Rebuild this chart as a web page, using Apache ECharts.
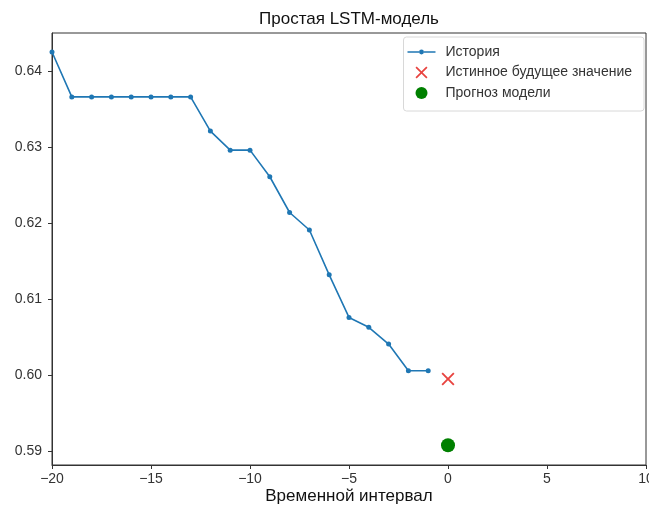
<!DOCTYPE html>
<html><head><meta charset="utf-8">
<script src="https://cdn.jsdelivr.net/npm/echarts@6/dist/echarts.min.js"></script>
<style>html,body{margin:0;padding:0;background:#fff}#c{width:649px;height:506px}</style>
</head><body><div id="c"></div>
<script>
const historyX = [-20,-19,-18,-17,-16,-15,-14,-13,-12,-11,-10,-9,-8,-7,-6,-5,-4,-3,-2,-1];
const historyY = [0.6425,0.6366,0.6366,0.6366,0.6366,0.6366,0.6366,0.6366,0.6321,0.6296,0.6296,0.6261,0.6214,0.6191,0.6132,0.6076,0.6063,0.6041,0.6006,0.6006];
const trueX = [0];
const trueY = [0.5995];
const predX = [0];
const predY = [0.5908];
const yTicks = [0.59,0.60,0.61,0.62,0.63,0.64];
const xTicks = [-20,-15,-10,-5,0,5,10];
const titleText = 'Простая LSTM-модель';
const xName = 'Временной интервал';
const names = ['История','Истинное будущее значение','Прогноз модели'];

const font = '"Liberation Sans", Arial, sans-serif';
const xPath = 'path://M0,1 L1,0 L5,4 L9,0 L10,1 L6,5 L10,9 L9,10 L5,6 L1,10 L0,9 L4,5 Z';
const lineIcon = 'path://M0,0 L0.01,0 L0,0.01 Z M28,12 L27.99,12 L28,11.99 Z M0,5.25 H11.8 V6.75 H0 Z M16.2,5.25 H28 V6.75 H16.2 Z M11.6,6 A2.4,2.4 0 1 0 16.4,6 A2.4,2.4 0 1 0 11.6,6 Z';
const chart = echarts.init(document.getElementById('c'));
chart.setOption({
  animation:false,
  textStyle:{fontFamily:font},
  title:{text:titleText,left:344,top:6,textAlign:'center',textStyle:{fontFamily:font,fontSize:17,fontWeight:'normal',color:'#111'}},
  grid:{left:52,right:3,top:33,bottom:41,show:true,borderColor:'#333',borderWidth:1,backgroundColor:'transparent',outerBoundsMode:'none'},
  legend:{
    orient:'vertical',right:5,top:37,padding:[8,12,11,4],itemGap:6.5,itemWidth:28,itemHeight:12,
    borderColor:'#d8d8d8',borderWidth:1,borderRadius:3,backgroundColor:'rgba(255,255,255,0.8)',
    textStyle:{fontFamily:font,fontSize:14,color:'#333',padding:[0,0,0,5]},
    data:[{name:names[0],icon:lineIcon},{name:names[1]},{name:names[2]}]
  },
  xAxis:{type:'value',min:xTicks[0],max:xTicks[xTicks.length-1],interval:5,
    axisLine:{onZero:false,lineStyle:{color:'#333'}},axisTick:{length:4,lineStyle:{color:'#333'}},
    splitLine:{show:false},
    axisLabel:{fontSize:14,color:'#333',margin:7,showMaxLabel:true,showMinLabel:true,formatter:v=>String(v).replace('-','\u2212')},
    name:xName,nameLocation:'middle',nameGap:23,nameMoveOverlap:false,nameTextStyle:{fontFamily:font,fontSize:17,color:'#111'}},
  yAxis:{type:'value',min:0.5882,max:0.645,
    axisLine:{show:true,onZero:false,lineStyle:{color:'#333'}},
    axisTick:{show:true,length:4,lineStyle:{color:'#333'},customValues:yTicks},
    splitLine:{show:false},
    axisLabel:{fontSize:14,color:'#333',margin:10,customValues:yTicks,formatter:v=>v.toFixed(2)}},
  series:[
    {name:names[0],type:'line',data:historyX.map((x,i)=>[x,historyY[i]]),symbol:'circle',symbolSize:5,showSymbol:true,
      itemStyle:{color:'#1f77b4'},lineStyle:{color:'#1f77b4',width:1.6}},
    {name:names[1],type:'scatter',data:trueX.map((x,i)=>[x,trueY[i]]),symbol:xPath,symbolSize:13,
      itemStyle:{color:'#e8433f',opacity:1}},
    {name:names[2],type:'scatter',data:predX.map((x,i)=>[x,predY[i]]),symbol:'circle',symbolSize:14,
      itemStyle:{color:'#008000',opacity:1}}
  ]
});
</script></body></html>
